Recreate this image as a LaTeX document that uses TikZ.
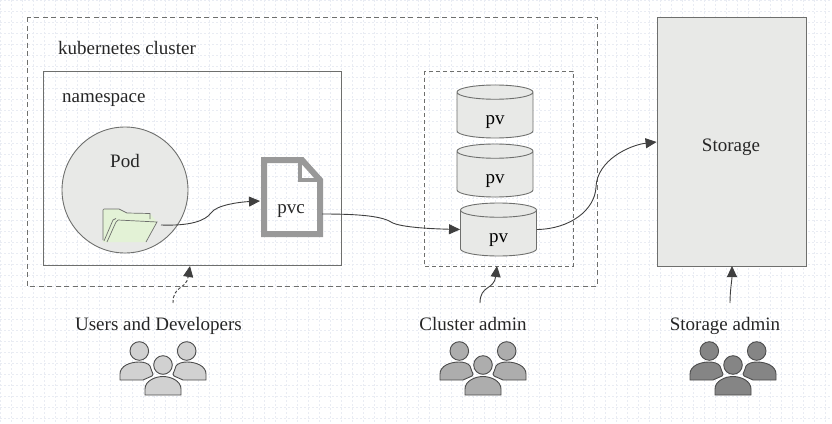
\documentclass[tikz,border=0pt]{standalone}
\usepackage{fontspec}
\setmainfont{Liberation Serif}
\usetikzlibrary{shapes.geometric,arrows.meta}
\definecolor{boxgray}{HTML}{E8E9E7}
\definecolor{linegray}{HTML}{6E6F6D}
\definecolor{gridblue}{HTML}{E9ECF3}
\tikzset{
  txt/.style={font=\fontsize{19}{22}\selectfont, text=black!85, inner sep=0pt},
  dashbox/.style={draw=linegray, dash pattern=on 5pt off 3.5pt, line width=0.9pt},
  pvdisk/.style={cylinder, shape border rotate=90, aspect=0.75, anchor=shape center, draw=linegray, line width=0.9pt,
    cylinder uses custom fill, cylinder body fill=boxgray, cylinder end fill=boxgray,
    minimum width=76pt, minimum height=53pt, inner sep=0pt, font=\fontsize{19}{22}\selectfont},
  link/.style={draw=black!75, line width=0.9pt, -{Triangle[length=11pt,width=10pt]}},
  pics/people/.style={code={
    \draw[draw=black!70, fill=#1, line width=0.9pt] (-23.7,-14) circle[radius=9.3];
    \draw[draw=black!70, fill=#1, line width=0.9pt] (23.7,-14) circle[radius=9.3];
    \draw[draw=black!70, fill=#1, line width=0.9pt] (0,0) circle[radius=9.3];
    \draw[draw=black!70, fill=#1, line width=0.9pt] (-43,15) -- (-43,9) .. controls (-43,1) and (-33,-3) .. (-24,-3)
       .. controls (-20,-3) and (-15,-2) .. (-13,1) .. controls (-12,4) and (-11,7) .. (-10,9) -- (-11,11) -- (-20,15) -- cycle;
    \draw[draw=black!70, fill=#1, line width=0.9pt] (43,15) -- (43,9) .. controls (43,1) and (33,-3) .. (24,-3)
       .. controls (20,-3) and (15,-2) .. (13,1) .. controls (12,4) and (11,7) .. (10,9) -- (11,11) -- (20,15) -- cycle;
    \draw[draw=black!70, fill=#1, line width=0.9pt] (-18,30) -- (-18,24) .. controls (-18,16) and (-8,11.5) .. (0,11.5)
       .. controls (8,11.5) and (18,16) .. (18,24) -- (18,30) -- cycle;
  }}
}
\newcommand{\pvtext}{\raisebox{-9.5pt}[0pt][0pt]{pv}}
\begin{document}
\begin{tikzpicture}[x=1pt,y=-1pt]
  \useasboundingbox (0,0) rectangle (832,423);
  % Background grid
  \foreach \gx in {0,11,...,825} \draw[gridblue, line width=1pt, dash pattern=on 2pt off 2pt] (\gx,0) -- (\gx,423);
  \foreach \gy in {0,11,...,418} \draw[gridblue, line width=1pt, dash pattern=on 2pt off 2pt] (0,\gy) -- (832,\gy);

  % Boxes
  \draw[dashbox] (27,17) rectangle (597,286);
  \draw[draw=linegray, line width=0.9pt] (43,71) rectangle (341,265);
  \draw[dashbox, dash pattern=on 4pt off 3pt] (424,71) rectangle (573,266);
  \node[txt, anchor=west] (clusterlabel) at (58,48) {kubernetes cluster};
  \node[txt, anchor=west] (nslabel) at (62,100) {namespace};

  % Pod and volume
  \node[circle, draw=linegray, fill=boxgray, line width=0.9pt, minimum size=126pt, inner sep=0pt] (pod) at (125,190) {};
  \node[txt] (podlabel) at (125,161) {Pod};
  \fill[green!35!olive!16!white] (103,209) -- (119,209) -- (127,213) -- (150,213.5) -- (157,222) -- (146,242) -- (103,242) -- cycle;
  \draw[draw=linegray, line width=0.7pt] (103,240) -- (103,210) -- (104,209) -- (119,209) -- (127,213) -- (150,213.5) -- (150,219);
  \draw[draw=linegray, line width=0.7pt] (104,241) -- (113,220) -- (116,218.5);
  \draw[draw=linegray, line width=0.7pt] (107,242) -- (116,222) -- (118,220) -- (157,222) -- (146,242);
  \coordinate (folder) at (161,225);

  % Claim document
  \draw[draw=black!40, line width=6pt, miter limit=2] (264,160) -- (302,160) -- (320,180) -- (320,234) -- (264,234) -- cycle;
  \draw[draw=black!40, line width=4.5pt] (300,160) -- (300,180) -- (320,180);
  \node[txt] (pvc) at (291,211) {pvc};
  \coordinate (pvcin) at (260,201);
  \coordinate (pvcout) at (322,214);

  % Volumes
  \node[pvdisk] (pva) at (495,111.5) {\pvtext};
  \node[pvdisk] (pvb) at (495,170.5) {\pvtext};
  \node[pvdisk] (pvc3) at (498.5,229.5) {\pvtext};
  \coordinate (pvin) at (pvc3.shape center -| pvc3.west);
  \coordinate (pvout) at (pvc3.shape center -| pvc3.east);

  % Storage
  \node[draw=linegray, fill=boxgray, line width=0.9pt, minimum width=149pt, minimum height=249pt, inner sep=0pt] (storage) at (731.5,141.5) {};
  \node[txt] (storagelabel) at (731,147) {Storage};

  % Admin groups
  \node[txt] (users) at (158.5,326) {Users and Developers};
  \node[txt] (cadmin) at (473,324) {Cluster admin};
  \node[txt] (sadmin) at (725,326) {Storage admin};
  \pic at (163,365) {people={black!18}};
  \pic at (483,365) {people={black!32}};
  \pic at (733,365) {people={black!48}};
  \coordinate (usersup) at (173,303);
  \coordinate (nsdown) at (190,266);
  \coordinate (cadminup) at (480,303);
  \coordinate (groupdown) at (497,266);
  \coordinate (sadminup) at (730,303);
  \coordinate (storagedown) at (732,266);

  % Connectors
  \draw[link] (folder) .. controls (190,226) and (205,221) .. (211,213) .. controls (216,205) and (240,202) .. (pvcin);
  \draw[link] (pvcout) .. controls (350,214) and (380,215) .. (391,222) .. controls (400,228) and (440,229) .. (pvin);
  \draw[link] (pvout) .. controls (570,229) and (595,210) .. (596,187) .. controls (597,160) and (630,145) .. (storage.west |- 0,142);
  \draw[link, dash pattern=on 3pt off 2pt] (usersup) .. controls (173,285) and (186,290) .. (nsdown);
  \draw[link] (cadminup) .. controls (480,285) and (494,290) .. (groupdown);
  \draw[link] (sadminup) .. controls (730,290) and (732,280) .. (storagedown);
\end{tikzpicture}
\end{document}
